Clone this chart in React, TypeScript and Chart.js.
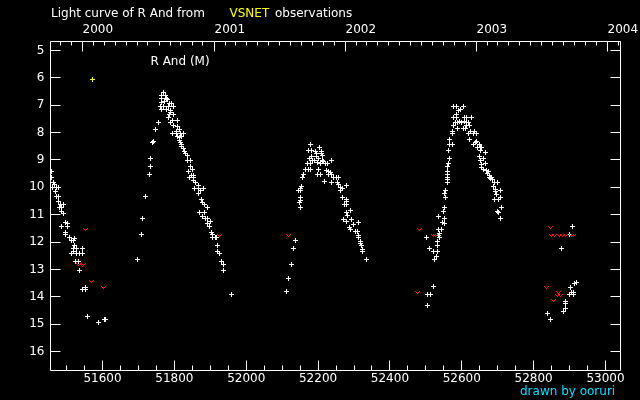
import React, { useEffect, useRef } from "react";
import { Chart, registerables } from "chart.js";

Chart.register(...registerables);

// ---- text ----
const TITLE_PREFIX = "Light curve of R And from";
const TITLE_SOURCE = "VSNET";
const TITLE_SUFFIX = "observations";
const STAR_LABEL = "R And (M)";
const CREDIT = "drawn by ooruri";

// ---- axes ----
const JD_MIN = 51455.3;
const JD_MAX = 53041.7;
const MAG_MIN = 4.671;
const MAG_MAX = 16.694;
const JD_TICKS = [51600, 51800, 52000, 52200, 52400, 52600, 52800, 53000];
const MAG_TICKS = [5, 6, 7, 8, 9, 10, 11, 12, 13, 14, 15, 16];
const YEAR_LABELS = ["2000", "2001", "2002", "2003", "2004"];
const YEAR_JD = [51544.5, 51910.5, 52275.5, 52640.5, 53005.5];

// ---- data: [JD-2400000, magnitude] ----
const season1999: number[][] = [
  [51458, 9.42], [51459, 9.63], [51463, 9.81], [51466, 9.9], [51462, 10.0], [51471, 10.0], [51477, 10.0],
  [51468, 10.14], [51471, 10.34], [51477, 10.34], [51477, 10.52], [51482, 10.64], [51491, 10.64],
  [51480, 10.75], [51487, 10.75], [51487, 10.87], [51491, 10.95], [51497, 11.28], [51504, 11.33],
  [51504, 11.43], [51486, 11.43], [51496, 11.64], [51497, 11.74], [51508, 11.85], [51513, 11.94],
  [51521, 11.86], [51519, 11.94], [51521, 12.14], [51518, 12.25], [51528, 12.25], [51515, 12.41],
  [51518, 12.34], [51529, 12.43], [51536, 12.43], [51543, 12.43], [51544, 12.25], [51524, 12.72],
  [51533, 12.72], [51536, 13.05], [51545, 13.75], [51552, 13.67], [51554, 13.75], [51558, 14.73],
  [51589, 14.95], [51606, 14.84], [51608, 14.84],
];
const season2000: number[][] = [
  [51697, 12.65], [51708, 11.74], [51711, 11.15], [51720, 10.35], [51731, 9.54], [51734, 9.25],
  [51734, 8.96], [51740, 8.35], [51742, 8.32], [51747, 7.88], [51756, 7.64], [51769, 6.55],
  [51763, 6.64], [51774, 6.64], [51765, 6.77], [51777, 6.77], [51782, 6.8], [51763, 6.89],
  [51773, 6.86], [51786, 6.93], [51792, 6.95], [51761, 7.05], [51770, 7.05], [51784, 7.05],
  [51798, 7.05], [51765, 7.16], [51777, 7.16], [51788, 7.19], [51790, 7.26], [51786, 7.35],
  [51799, 7.35], [51785, 7.46], [51796, 7.56], [51810, 7.57], [51789, 7.64], [51799, 7.75],
  [51809, 7.77], [51814, 7.88], [51807, 7.96], [51796, 8.04], [51805, 8.04], [51816, 8.04],
  [51825, 8.04], [51809, 8.14], [51814, 8.19], [51821, 8.14], [51814, 8.29], [51818, 8.36],
  [51821, 8.44], [51819, 8.5], [51825, 8.57], [51827, 8.68], [51830, 8.78], [51837, 8.85],
  [51837, 9.03], [51845, 9.03], [51845, 9.25], [51850, 9.36], [51840, 9.43], [51848, 9.56],
  [51853, 9.56], [51842, 9.65], [51853, 9.65], [51852, 9.75], [51858, 9.84], [51867, 9.95],
  [51855, 10.05], [51866, 10.05], [51874, 10.12], [51881, 10.05], [51867, 10.24], [51875, 10.46],
  [51877, 10.54], [51884, 10.64], [51891, 10.75], [51870, 10.93], [51883, 10.91], [51879, 11.06],
  [51886, 11.13], [51892, 11.15], [51901, 11.26], [51892, 11.33], [51898, 11.44], [51903, 11.64],
  [51905, 11.73], [51914, 11.85], [51918, 11.85], [51907, 11.85], [51920, 12.14], [51920, 12.36],
  [51926, 12.41], [51930, 12.72], [51937, 12.83], [51937, 13.05], [51960, 13.93],
];
const season2001: number[][] = [
  [52111, 13.81], [52117, 13.33], [52126, 12.83], [52132, 12.25], [52137, 11.96], [52147, 10.54],
  [52150, 10.48], [52151, 10.36], [52151, 10.75], [52145, 10.13], [52150, 10.13], [52155, 9.96],
  [52152, 10.05], [52158, 9.65], [52159, 9.54], [52166, 9.36], [52173, 9.36], [52180, 9.36],
  [52171, 9.14], [52178, 9.14], [52176, 8.96], [52184, 9.02], [52190, 9.02], [52183, 8.86],
  [52173, 8.67], [52181, 8.67], [52179, 8.45], [52192, 8.69], [52195, 8.78], [52209, 8.68],
  [52210, 8.78], [52204, 8.56], [52197, 8.86], [52201, 8.94], [52212, 8.84], [52212, 9.02],
  [52216, 9.05], [52237, 9.03], [52199, 9.1], [52206, 9.14], [52221, 9.14], [52226, 9.14],
  [52202, 9.36], [52224, 9.39], [52229, 9.43], [52234, 9.46], [52238, 9.54], [52198, 9.54],
  [52208, 9.54], [52229, 9.53], [52243, 9.65], [52250, 9.65], [52257, 9.65], [52218, 9.78],
  [52237, 9.84], [52254, 9.84], [52257, 9.91], [52279, 9.95], [52262, 10.02], [52269, 10.05],
  [52263, 10.12], [52269, 10.36], [52279, 10.45], [52279, 10.53], [52273, 10.63], [52278, 10.63],
  [52289, 10.85], [52280, 10.93], [52282, 11.04], [52271, 11.17], [52293, 11.17], [52312, 11.28],
  [52280, 11.26], [52299, 11.35], [52288, 11.46], [52291, 11.55], [52303, 11.62], [52310, 11.62],
  [52312, 11.75], [52312, 11.85], [52319, 11.97], [52319, 12.04], [52322, 12.14], [52325, 12.26],
  [52325, 12.36], [52335, 12.65],
];
const season2002: number[][] = [
  [52577, 7.05], [52586, 7.05], [52605, 7.05], [52591, 7.19], [52597, 7.16], [52584, 7.35],
  [52577, 7.46], [52586, 7.46], [52607, 7.46], [52614, 7.46], [52627, 7.46], [52582, 7.62],
  [52588, 7.62], [52595, 7.58], [52600, 7.62], [52607, 7.58], [52612, 7.62], [52619, 7.64],
  [52577, 7.73], [52614, 7.73], [52621, 7.73], [52588, 7.86], [52605, 7.86], [52611, 7.86],
  [52574, 7.95], [52574, 8.04], [52623, 7.95], [52619, 8.04], [52634, 7.95], [52632, 8.04],
  [52642, 8.04], [52566, 8.26], [52621, 8.26], [52640, 8.32], [52637, 8.37], [52566, 8.45],
  [52574, 8.45], [52632, 8.45], [52649, 8.45], [52651, 8.53], [52645, 8.56], [52655, 8.56],
  [52563, 8.67], [52651, 8.67], [52666, 8.74], [52566, 8.96], [52649, 8.86], [52660, 8.96],
  [52651, 9.02], [52563, 9.14], [52561, 9.24], [52666, 9.14], [52655, 9.17], [52656, 9.27],
  [52660, 9.35], [52668, 9.39], [52674, 9.41], [52671, 9.51], [52560, 9.43], [52560, 9.53],
  [52560, 9.63], [52560, 9.73], [52560, 9.82], [52677, 9.57], [52684, 9.63], [52677, 9.65],
  [52686, 9.73], [52681, 9.69], [52690, 9.84], [52698, 9.84], [52688, 9.96], [52694, 10.08],
  [52695, 10.16], [52708, 10.12], [52696, 10.27], [52691, 10.46], [52701, 10.46], [52708, 10.36],
  [52710, 10.75], [52698, 10.87], [52703, 10.93], [52708, 11.15], [52555, 10.13], [52552, 10.24],
  [52556, 10.36], [52552, 10.75], [52549, 10.87], [52535, 11.06], [52552, 11.15], [52545, 11.28],
  [52552, 11.33], [52536, 11.55], [52543, 11.55], [52538, 11.68], [52536, 11.77], [52538, 11.85],
  [52502, 11.83], [52533, 11.98], [52532, 12.13], [52510, 12.25], [52521, 12.36], [52532, 12.36],
  [52529, 12.53], [52524, 12.65], [52521, 13.64], [52505, 13.92], [52514, 13.92], [52505, 14.33],
];
const season2003: number[][] = [
  [52908, 11.43], [52900, 11.73], [52877, 12.25], [52918, 13.47], [52915, 13.53], [52902, 13.65],
  [52906, 13.83], [52912, 13.83], [52910, 13.93], [52900, 13.93], [52889, 14.16], [52889, 14.24],
  [52889, 14.44], [52883, 14.54], [52838, 14.62], [52847, 14.84],
];
// fainter-than estimates (red "v")
const fainterThan: number[][] = [
  [51553, 11.55], [51533, 12.83], [51543, 12.86], [51547, 12.83], [51569, 13.44], [51603, 13.67],
  [51926, 11.76], [52118, 11.77], [52482, 11.55], [52521, 11.76], [52527, 11.76], [52477, 13.85],
  [52847, 11.47], [52851, 11.76], [52858, 11.76], [52872, 11.76], [52881, 11.76], [52890, 11.76],
  [52906, 11.76], [52910, 11.76], [52836, 13.67], [52869, 13.86], [52866, 13.95], [52874, 13.95],
  [52855, 14.14],
];
// other observation type (yellow)
const otherObs: number[][] = [[51572, 6.07]];

const FONT = "DejaVu Sans";

function sprite(pattern: string[], color: string): HTMLCanvasElement {
  const c = document.createElement("canvas");
  c.width = pattern[0].length;
  c.height = pattern.length;
  const ctx = c.getContext("2d")!;
  ctx.fillStyle = color;
  pattern.forEach((row, yy) => {
    for (let xx = 0; xx < row.length; xx++) if (row[xx] === "X") ctx.fillRect(xx, yy, 1, 1);
  });
  return c;
}

const PLUS = ["..X..", "..X..", "XXXXX", "..X..", "..X.."];
const VEE = ["X...X", ".X.X.", "..X.."];

function toPoints(rows: number[][]) {
  return rows.map((r) => ({ x: r[0], y: r[1] }));
}

function monthTicks(): { jd: number; major: boolean }[] {
  const out: { jd: number; major: boolean }[] = [];
  for (let yr = 1999; yr <= 2004; yr++) {
    for (let m = 0; m < 12; m++) {
      const jd = Date.UTC(yr, m, 1) / 86400000 + 40587.5;
      if (jd > JD_MIN && jd < JD_MAX) out.push({ jd, major: m === 0 });
    }
  }
  return out;
}

const decorPlugin = {
  id: "decor",
  beforeDraw(chart: any) {
    const ctx = chart.ctx;
    ctx.save();
    ctx.fillStyle = "#000";
    ctx.fillRect(0, 0, chart.width, chart.height);
    ctx.restore();
  },
  beforeDatasetsDraw(chart: any) {
    chart.ctx.save();
    chart.ctx.imageSmoothingEnabled = false;
  },
  afterDatasetsDraw(chart: any) {
    chart.ctx.restore();
  },
  afterDraw(chart: any) {
    const ctx = chart.ctx;
    const a = chart.chartArea;
    const xs = chart.scales.x;
    const ys = chart.scales.y;
    const L = Math.floor(a.left) + 0.5;
    const R = Math.floor(a.right) + 0.5;
    const T = Math.floor(a.top) + 0.5;
    const B = Math.floor(a.bottom) + 0.5;
    ctx.save();
    ctx.strokeStyle = "#fff";
    ctx.lineWidth = 1;
    ctx.beginPath();
    ctx.rect(L, T, R - L, B - T);
    // bottom ticks
    for (let v = 51500; v <= 53000; v += 50) {
      const px = Math.floor(xs.getPixelForValue(v)) + 0.5;
      const len = v % 200 === 0 ? 10 : 5;
      ctx.moveTo(px, B);
      ctx.lineTo(px, B - len);
    }
    // left / right ticks
    MAG_TICKS.forEach((m) => {
      const py = Math.floor(ys.getPixelForValue(m)) + 0.5;
      ctx.moveTo(L, py);
      ctx.lineTo(L + 10, py);
      ctx.moveTo(R, py);
      ctx.lineTo(R - 10, py);
    });
    // top ticks (months / years)
    monthTicks().forEach((t) => {
      const px = Math.floor(xs.getPixelForValue(t.jd)) + 0.5;
      ctx.moveTo(px, T);
      ctx.lineTo(px, T + (t.major ? 10 : 4));
    });
    ctx.stroke();

    ctx.font = `12px "${FONT}"`;
    ctx.textBaseline = "alphabetic";
    ctx.textAlign = "left";
    // title
    ctx.fillStyle = "#fff";
    ctx.fillText(TITLE_PREFIX, 51, 16.5);
    ctx.fillStyle = "#ffff00";
    ctx.fillText(TITLE_SOURCE, 229.5, 16.5);
    ctx.fillStyle = "#fff";
    ctx.fillText(TITLE_SUFFIX, 275, 16.5);
    // year labels
    YEAR_LABELS.forEach((lab, i) => {
      const px = Math.floor(xs.getPixelForValue(YEAR_JD[i])) + 0.5;
      ctx.fillText(lab, px, 32.5);
    });
    // star label
    ctx.fillText(STAR_LABEL, 150.5, 64.5);
    // credit
    ctx.fillStyle = "#00e0ff";
    ctx.fillText(CREDIT, 520, 394.5);
    ctx.restore();
  },
};

export default function App() {
  const ref = useRef<HTMLCanvasElement>(null);
  useEffect(() => {
    document.body.style.margin = "0";
    document.body.style.background = "#000";
    const plus = sprite(PLUS, "#ffffff");
    const plusY = sprite(PLUS, "#ffff00");
    const vee = sprite(VEE, "#ff1010");
    const visual = [...season1999, ...season2000, ...season2001, ...season2002, ...season2003];
    const chart = new Chart(ref.current as HTMLCanvasElement, {
      type: "scatter",
      data: {
        datasets: [
          { label: "fainter", data: toPoints(fainterThan), pointStyle: vee as any, pointRadius: 3, order: 0 },
          { label: "other", data: toPoints(otherObs), pointStyle: plusY as any, pointRadius: 3, order: 1 },
          { label: "visual", data: toPoints(visual), pointStyle: plus as any, pointRadius: 3, order: 2 },
        ],
      },
      options: {
        responsive: false,
        maintainAspectRatio: false,
        animation: false,
        events: [],
        layout: { padding: { left: 0, right: 19.5, top: 41.5, bottom: 0 } },
        plugins: { legend: { display: false }, tooltip: { enabled: false }, title: { display: false } },
        scales: {
          x: {
            type: "linear",
            position: "bottom",
            min: JD_MIN,
            max: JD_MAX,
            grid: { display: false, drawTicks: false },
            border: { display: false },
            afterBuildTicks: (s: any) => {
              s.ticks = JD_TICKS.map((v) => ({ value: v }));
            },
            afterFit: (s: any) => {
              s.height = 29.5;
            },
            ticks: {
              autoSkip: false,
              maxRotation: 0,
              minRotation: 0,
              padding: 1,
              color: "#fff",
              font: { family: FONT, size: 12 },
              callback: (v: any) => String(v),
            },
          },
          y: {
            type: "linear",
            position: "left",
            reverse: true,
            min: MAG_MIN,
            max: MAG_MAX,
            grid: { display: false, drawTicks: false },
            border: { display: false },
            afterBuildTicks: (s: any) => {
              s.ticks = MAG_TICKS.map((v) => ({ value: v }));
            },
            afterFit: (s: any) => {
              s.width = 50.5;
            },
            ticks: {
              autoSkip: false,
              padding: 6,
              color: "#fff",
              font: { family: FONT, size: 12 },
              callback: (v: any) => String(v),
            },
          },
        },
      },
      plugins: [decorPlugin],
    } as any);
    return () => chart.destroy();
  }, []);
  return (
    <div style={{ width: 640, height: 400, background: "#000" }}>
      <canvas ref={ref} width={640} height={400} style={{ display: "block" }} />
    </div>
  );
}
